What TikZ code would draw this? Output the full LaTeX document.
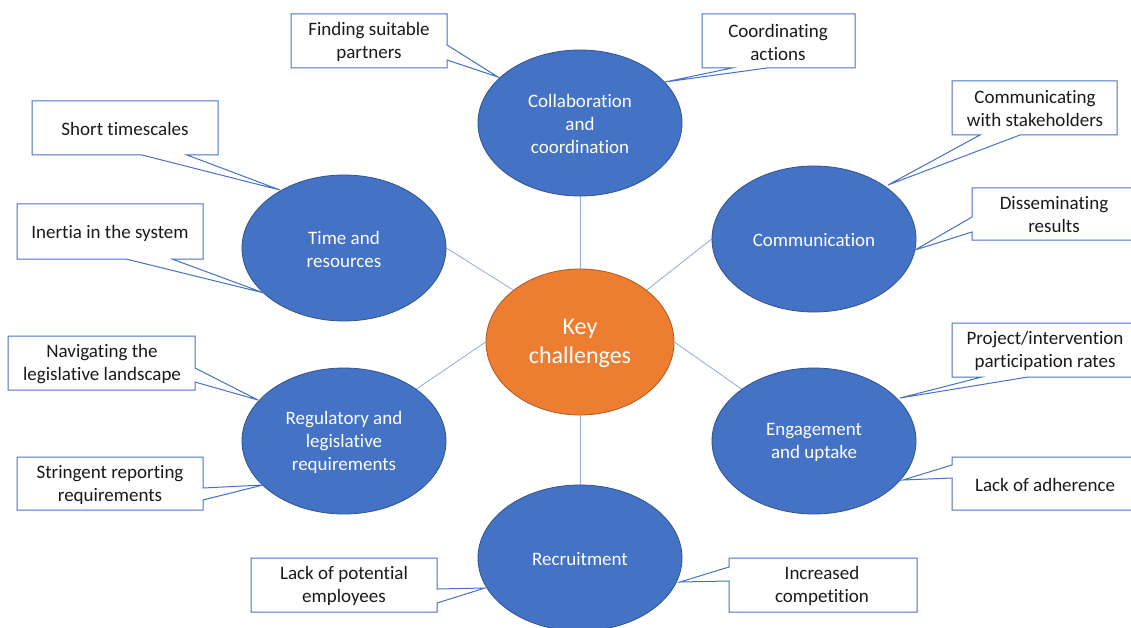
\documentclass[tikz,border=0pt]{standalone}
\usepackage{fontspec}
\setmainfont{Carlito}[Ligatures={NoCommon}]
\usetikzlibrary{shapes.geometric,backgrounds}
\definecolor{bfill}{HTML}{4472C4}
\definecolor{bdraw}{HTML}{2F528F}
\definecolor{ofill}{HTML}{ED7D31}
\definecolor{odraw}{HTML}{AE5A21}
\definecolor{lnk}{HTML}{8FAADC}
\definecolor{txt}{HTML}{1A1A1A}
\tikzset{
  topic/.style={ellipse, fill=bfill, draw=bdraw, line width=0.8pt, inner sep=0pt,
    minimum width=204pt, minimum height=146pt, text=white, align=center,
    font=\fontsize{19}{23}\selectfont},
  hub/.style={ellipse, fill=ofill, draw=odraw, line width=0.8pt, inner sep=0pt,
    minimum width=188pt, minimum height=146pt, text=white, align=center,
    font=\fontsize{24}{29}\selectfont},
  link/.style={draw=lnk, line width=0.8pt},
  callout/.style={fill=white, draw=bfill, line width=1pt, line join=miter},
  ctext/.style={text=txt, align=center, inner sep=0pt, yshift=-1pt,
    font=\fontsize{19}{23}\selectfont},
  ttext/.style={text=white, align=center, inner sep=0pt, yshift=-1pt,
    font=\fontsize{19}{23}\selectfont},
}
\begin{document}
\begin{tikzpicture}[x=1pt,y=-1pt]
\useasboundingbox (0,0) rectangle (1131,628);
% topics
\node[hub] (key) at (580,342) {};
\node[topic] (collab) at (580,123) {};
\node[topic] (time) at (344,248) {};
\node[topic] (comm) at (814,239) {};
\node[topic] (reg) at (344,441) {};
\node[topic] (eng) at (814,441) {};
\node[topic] (recr) at (580,558) {};
\node[ttext, font=\fontsize{24}{29}\selectfont] (keyt) at (key) {Key\\challenges};
\node[ttext] (collabt) at (collab) {Collaboration\\and\\coordination};
\node[ttext] (timet) at (time) {Time and\\resources};
\node[ttext] (commt) at (comm) {Communication};
\node[ttext] (regt) at (reg) {Regulatory and\\legislative\\requirements};
\node[ttext] (engt) at (eng) {Engagement\\and uptake};
\node[ttext] (recrt) at (recr) {Recruitment};
% connectors
\begin{scope}[on background layer]
\fill[white] (0,0) rectangle (1131,628);
\draw[link] (collab.south) -- (key.north);
\draw[link] (time.east) -- (key.north west);
\draw[link] (comm.west) -- (key.north east);
\draw[link] (reg.north east) -- (key.west);
\draw[link] (eng.north west) -- (key.east);
\draw[link] (key.south) -- (recr.north);
\end{scope}
% callouts
\draw[callout] (291,14)--(447,14)--(447,45)--(498,77)--(447,60)--(447,68)--(291,68)--cycle;
\node[ctext] (c1) at (369,41) {Finding suitable\\partners};
\draw[callout] (702,14)--(855,14)--(855,68)--(767,68)--(665,82)--(732,68)--(702,68)--cycle;
\node[ctext] (c2) at (778,41) {Coordinating\\actions};
\draw[callout] (32,101)--(218,101)--(218,155)--(187,155)--(280,190)--(142,155)--(32,155)--cycle;
\node[ctext] (c3) at (125,128) {Short timescales};
\draw[callout] (17,204)--(203,204)--(203,259)--(172,259)--(264,293)--(126,259)--(17,259)--cycle;
\node[ctext] (c4) at (110,232) {Inertia in the system};
\draw[callout] (952,81)--(1117,81)--(1117,135)--(1020,135)--(888,185)--(980,135)--(952,135)--cycle;
\node[ctext] (c5) at (1035,108) {Communicating\\with stakeholders};
\draw[callout] (972,188)--(1140,188)--(1140,240)--(972,240)--(972,232)--(915,250)--(972,217)--cycle;
\node[ctext] (c6) at (1054,214) {Disseminating\\results};
\draw[callout] (8,336)--(195,336)--(195,368)--(258,400)--(195,382)--(195,390)--(8,390)--cycle;
\node[ctext] (c7) at (102,363) {Navigating the\\legislative landscape};
\draw[callout] (17,457)--(203,457)--(203,488)--(263,485)--(203,500)--(203,510)--(17,510)--cycle;
\node[ctext] (c8) at (110,484) {Stringent reporting\\requirements};
\draw[callout] (952,323)--(1140,323)--(1140,377)--(1028,377)--(900,398)--(982,377)--(952,377)--cycle;
\node[ctext] (c9) at (1045,350) {Project/intervention\\participation rates};
\draw[callout] (952,457)--(1140,457)--(1140,510)--(952,510)--(952,478)--(903,480)--(952,465)--cycle;
\node[ctext] (c10) at (1045,484) {Lack of adherence};
\draw[callout] (251,558)--(437,558)--(437,589)--(485,588)--(437,603)--(437,612)--(251,612)--cycle;
\node[ctext] (c11) at (344,585) {Lack of potential\\employees};
\draw[callout] (729,558)--(917,558)--(917,612)--(729,612)--(729,581)--(680,582)--(729,567)--cycle;
\node[ctext] (c12) at (822,585) {Increased\\competition};
\end{tikzpicture}
\end{document}
